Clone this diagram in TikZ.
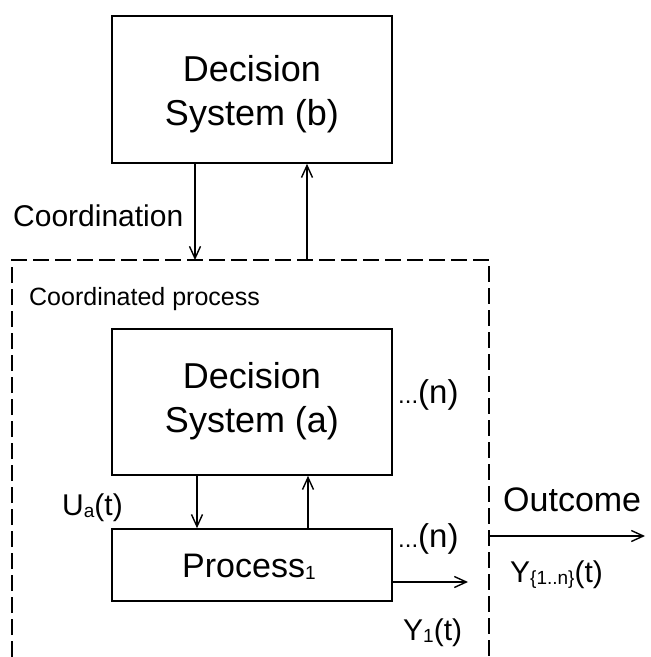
\documentclass[tikz,border=0pt]{standalone}
\usepackage{fontspec}
\setmainfont{Liberation Sans}
\usetikzlibrary{arrows.meta}

\newcommand{\fsz}[1]{\fontsize{#1}{1.22\dimexpr #1pt\relax}\selectfont}
\newcommand{\subtxt}[1]{\raisebox{-2pt}{\fontsize{19}{22}\selectfont #1}}

\tikzset{
  blk/.style={draw, line width=1.7pt, inner sep=0pt, minimum width=280pt},
  arr/.style={line width=1.4pt, -{Straight Barb[length=12pt,width=11pt,line width=1.4pt]}},
  frame/.style={line width=1.7pt, dash pattern=on 16pt off 6pt},
  big/.style={font=\fsz{36}, anchor=base, align=center, inner sep=0pt},
  lbl/.style={anchor=base west, inner sep=0pt},
}

\begin{document}
\begin{tikzpicture}[x=1pt, y=-1pt]
\useasboundingbox (0,0) rectangle (651,657);

% upper decision system
\node[blk, minimum height=147pt] (dsb) at (252,89.5) {};
\node[big] (dsbt1) at (252,81) {Decision};
\node[big] (dsbt2) at (252,125) {System (b)};

% coordinated process frame (open at the bottom)
\coordinate (fbl) at (12,657);
\coordinate (ftl) at (12,260);
\coordinate (ftr) at (489,260);
\coordinate (fbr) at (489,657);
\draw[frame] (fbl) -- (ftl) -- (ftr) -- (fbr);
\node[lbl, font=\fsz{25}] (cpl) at (29,305) {Coordinated process};

% coordination links
\draw[arr] ([xshift=-57pt]dsb.south) -- ([xshift=-57pt]dsb.south |- ftl);
\draw[arr] ([xshift=55pt]dsb.south |- ftl) -- ([xshift=55pt]dsb.south);
\node[lbl, font=\fsz{30}] (coord) at (13,226) {Coordination};

% lower decision system
\node[blk, minimum height=146pt] (dsa) at (252,402) {};
\node[big] (dsat1) at (252,388) {Decision};
\node[big] (dsat2) at (252,432) {System (a)};
\node[lbl, font=\fsz{33}] (dotsa) at (398,403) {{\fsz{24}...}(n)};

% process
\node[blk, minimum height=72pt] (prc) at (252,565) {};
\node[lbl, font=\fsz{34}] (prct) at (182,577) {Process\subtxt{1}};
\node[lbl, font=\fsz{33}] (dotsp) at (398,547) {{\fsz{24}...}(n)};

% control and feedback between decision system (a) and process
\draw[arr] ([xshift=-55pt]dsa.south) -- ([xshift=-55pt]prc.north);
\draw[arr] ([xshift=56pt]prc.north) -- ([xshift=56pt]dsa.south);
\node[lbl, font=\fsz{30}] (ua) at (62,515) {U\subtxt{a}(t)};

% process output
\coordinate (y1end) at (468,582);
\draw[arr] (prc.east |- y1end) -- (y1end);
\node[lbl, font=\fsz{30}] (y1) at (403,640) {Y\subtxt{1}(t)};

% overall outcome
\coordinate (outs) at (490,536);
\coordinate (oute) at (645,536);
\draw[arr] (outs) -- (oute);
\node[lbl, font=\fsz{34}] (outc) at (503,511) {Outcome};
\node[lbl, font=\fsz{30}] (yn) at (510,582) {Y\subtxt{\{1..n\}}(t)};

\end{tikzpicture}
\end{document}
